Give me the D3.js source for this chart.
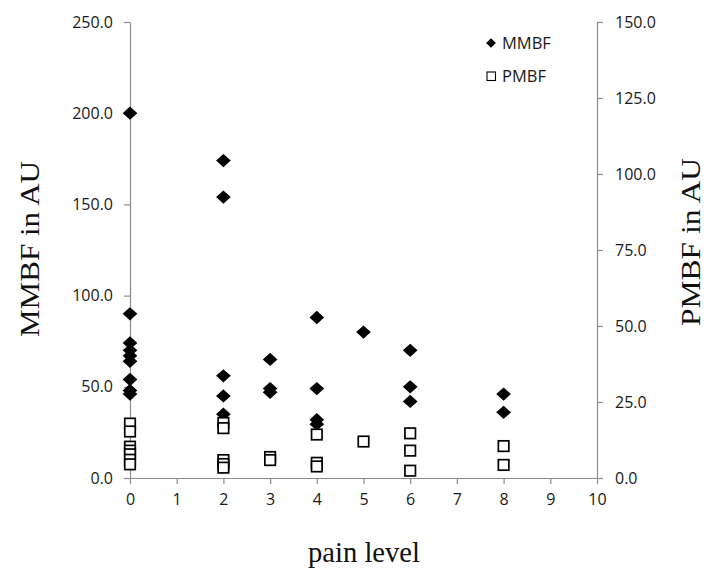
<!DOCTYPE html>
<html>
<head>
<meta charset="utf-8">
<script src="https://cdn.jsdelivr.net/npm/d3@7"></script>
<style>
  html, body { margin: 0; padding: 0; background: #fff; }
  svg { display: block; }
</style>
</head>
<body>
<svg id="chart" width="715" height="570"></svg>
<script>
// ---- data ----
const painLevels = [0,1,2,3,4,5,6,7,8,9,10];
const leftTicks = [0, 50, 100, 150, 200, 250];
const rightTicks = [0, 25, 50, 75, 100, 125, 150];

const mmbfX = [0,0,0,0,0,0,0,0,0, 2,2,2,2,2, 3,3,3, 4,4,4,4, 5, 6,6,6, 8,8];
const mmbfY = [200,90,74,70,67,64,54,48,46, 174,154,56,45,35, 65,49,47, 88,49,32,29.5, 80, 70,50,42, 46,36];

const pmbfX = [0,0,0,0,0,0,0, 2,2,2,2,2, 3,3, 4,4,4, 5, 6,6,6, 8,8];
const pmbfY = [17.9,15.3,10.3,9.0,7.8,6.0,4.5, 18.1,16.4,5.9,4.6,3.4, 6.9,5.9, 14.3,5.0,3.8, 12.0, 14.7,9.0,2.4, 10.5,4.3];

const seriesNames = ["MMBF", "PMBF"];
const xTitle = "pain level";
const yLeftTitle = "MMBF in AU";
const yRightTitle = "PMBF in AU";

// ---- chart ----
const svg = d3.select("#chart");
const axisColor = "#8c8c8c";
const textColor = "#1a1a1a";
const tickFont = "'Open Sans', 'Liberation Sans', sans-serif";
const titleFont = "'Liberation Serif', 'Times New Roman', serif";

const x = d3.scaleLinear().domain([0, 10]).range([130, 597]);
const yL = d3.scaleLinear().domain([0, 250]).range([478, 22]);
const yR = d3.scaleLinear().domain([0, 150]).range([478, 22]);

function styleAxis(g) {
  g.select(".domain").attr("stroke", axisColor).attr("stroke-width", 1.2);
  g.selectAll(".tick line").attr("stroke", axisColor).attr("stroke-width", 1.2);
  g.selectAll(".tick text")
    .attr("fill", textColor)
    .style("font-family", tickFont)
    .style("font-size", "16px");
}

svg.append("g")
  .attr("transform", `translate(0,${yL(0)})`)
  .call(d3.axisBottom(x).tickValues(painLevels).tickFormat(d3.format("d")).tickSize(6).tickSizeOuter(0).tickPadding(10))
  .call(styleAxis);

svg.append("g")
  .attr("transform", `translate(${x(0)},0)`)
  .call(d3.axisLeft(yL).tickValues(leftTicks).tickFormat(d3.format(".1f")).tickSize(6).tickSizeOuter(0).tickPadding(11))
  .call(styleAxis);

svg.append("g")
  .attr("transform", `translate(${x(10)},0)`)
  .call(d3.axisRight(yR).tickValues(rightTicks).tickFormat(d3.format(".1f")).tickSize(6).tickSizeOuter(0).tickPadding(12))
  .call(styleAxis);

// MMBF diamonds
const diamond = d3.symbol().type(d3.symbolDiamond2).size(125);
svg.append("g").selectAll("path")
  .data(mmbfY.map((v, i) => ({x: mmbfX[i], y: v})))
  .join("path")
  .attr("d", diamond)
  .attr("transform", d => `translate(${x(d.x)},${yL(d.y)}) scale(1.05,0.95)`)
  .attr("fill", "#000");

// PMBF squares
const sq = 10.5;
svg.append("g").selectAll("rect")
  .data(pmbfY.map((v, i) => ({x: pmbfX[i], y: v})))
  .join("rect")
  .attr("x", d => x(d.x) - sq / 2)
  .attr("y", d => yR(d.y) - sq / 2)
  .attr("width", sq)
  .attr("height", sq)
  .attr("fill", "#fff")
  .attr("stroke", "#000")
  .attr("stroke-width", 1.7);

// legend
const lg = svg.append("g");
lg.append("path").attr("d", d3.symbol().type(d3.symbolDiamond2).size(60))
  .attr("transform", "translate(491,43)").attr("fill", "#000");
lg.append("rect").attr("x", 487).attr("y", 72).attr("width", 8.5).attr("height", 8.5)
  .attr("fill", "#fff").attr("stroke", "#000").attr("stroke-width", 1.1);
lg.selectAll("text").data(seriesNames).join("text")
  .attr("x", 502).attr("y", (d, i) => 43 + i * 33)
  .attr("dy", "0.35em")
  .attr("fill", textColor)
  .style("font-family", tickFont).style("font-size", "16.5px")
  .text(d => d);

// axis titles
svg.append("text")
  .attr("x", 364).attr("y", 562)
  .attr("text-anchor", "middle")
  .attr("fill", "#111")
  .style("font-family", titleFont).style("font-size", "30px")
  .attr("textLength", 112).attr("lengthAdjust", "spacingAndGlyphs")
  .text(xTitle);

svg.append("text")
  .attr("transform", "translate(39,249) rotate(-90)")
  .attr("text-anchor", "middle")
  .attr("fill", "#111")
  .style("font-family", titleFont).style("font-size", "28px")
  .attr("textLength", 176).attr("lengthAdjust", "spacingAndGlyphs")
  .text(yLeftTitle);

svg.append("text")
  .attr("transform", "translate(700,242) rotate(-90)")
  .attr("text-anchor", "middle")
  .attr("fill", "#111")
  .style("font-family", titleFont).style("font-size", "28px")
  .attr("textLength", 168).attr("lengthAdjust", "spacingAndGlyphs")
  .text(yRightTitle);
</script>
</body>
</html>
